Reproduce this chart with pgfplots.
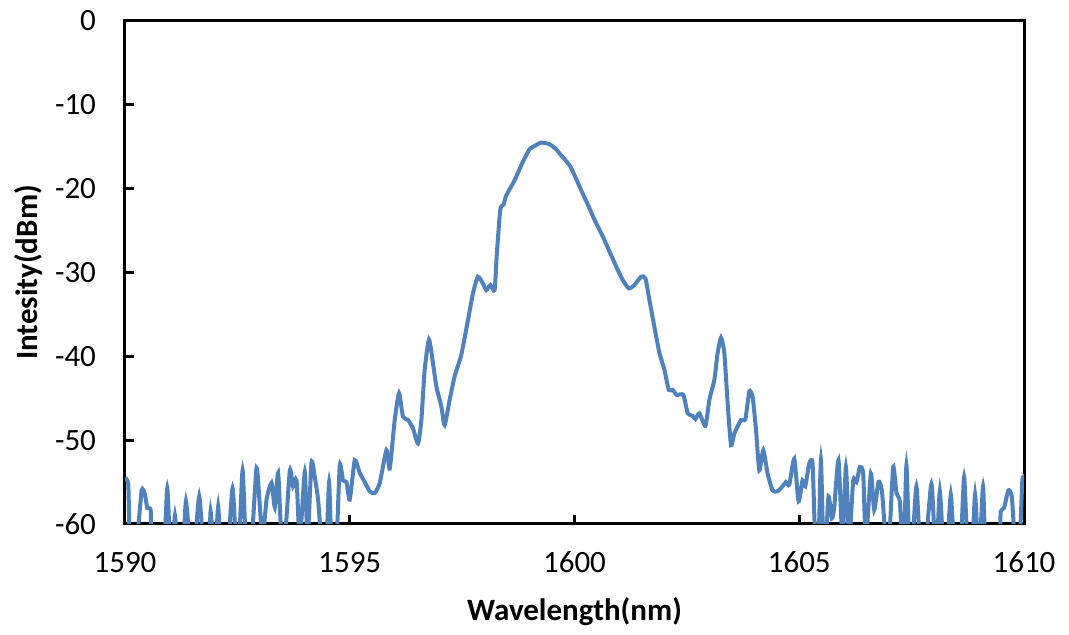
\documentclass[border=0pt]{standalone}
\usepackage{pgfplots}
\pgfplotsset{compat=1.18}
\usepackage{fontspec}
\setmainfont{Carlito}
\definecolor{xlblue}{HTML}{4F81BD}
\begin{document}
\begin{tikzpicture}
\useasboundingbox (-62.5pt,-55.5pt) rectangle (472pt,262pt);
\begin{axis}[
  at={(0,0)}, anchor=south west,
  scale only axis, width=449.5pt, height=251.5pt,
  xmin=1590, xmax=1610, ymin=-60, ymax=0,
  xtick={1590,1595,1600,1605,1610},
  ytick={-60,-50,-40,-30,-20,-10,0},
  tick pos=left, tick align=inside,
  major tick length=4.5pt,
  axis line style={line width=1.5pt},
  every tick/.style={black, line width=1.5pt},
  /pgf/number format/assume math mode=true,
  /pgf/number format/1000 sep={},
  font=\fontsize{15.5}{18}\selectfont,
  ticklabel style={font=\fontsize{15.5}{18}\selectfont},
  yticklabel style={xshift=-11pt},
  xticklabel style={yshift=-10.5pt},
  xlabel={\textbf{Wavelength(nm)}},
  ylabel={\textbf{Intesity(dBm)}},
  xlabel style={at={(axis description cs:0.5,-0.175)}, anchor=center},
  ylabel style={at={(axis description cs:-0.1079,0.5)}, anchor=center, rotate=0},
]
\addplot[color=xlblue, line width=2pt, smooth, tension=0.35] coordinates {
(1590.000,-54.5) (1590.073,-55.3) (1590.111,-62) (1590.260,-62) (1590.371,-56) (1590.444,-56.5)
(1590.496,-58.1) (1590.571,-58.3) (1590.593,-62) (1590.867,-62) (1590.940,-55.7) (1591.000,-62)
(1591.073,-62) (1591.111,-59) (1591.162,-62) (1591.296,-62) (1591.356,-57.3) (1591.444,-62)
(1591.556,-62) (1591.651,-56.7) (1591.740,-62) (1591.873,-62) (1591.904,-58.5) (1591.962,-62)
(1592.022,-62) (1592.073,-57.9) (1592.127,-62) (1592.296,-62) (1592.393,-55.7) (1592.467,-62)
(1592.540,-62) (1592.616,-53.6) (1592.689,-62) (1592.816,-62) (1592.927,-53.3) (1593.000,-57.9)
(1593.060,-62) (1593.149,-57.1) (1593.260,-55.1) (1593.333,-58) (1593.407,-53.9) (1593.482,-62)
(1593.556,-62) (1593.667,-53.6) (1593.740,-55.5) (1593.816,-54.8) (1593.889,-62) (1594.000,-53.8)
(1594.060,-62) (1594.149,-52.7) (1594.222,-54.4) (1594.296,-57.1) (1594.371,-62) (1594.482,-62)
(1594.540,-55) (1594.593,-62) (1594.704,-62) (1594.778,-53) (1594.851,-54.8) (1594.927,-55)
(1595.000,-57.1) (1595.111,-52.4) (1595.222,-53.9) (1595.333,-55) (1595.444,-56.1) (1595.556,-56.3)
(1595.667,-55.1) (1595.816,-51.2) (1595.889,-53.4) (1596.000,-47.6) (1596.096,-44.4) (1596.184,-47.2)
(1596.296,-47.6) (1596.407,-48.6) (1596.518,-50.4) (1596.593,-47.6) (1596.667,-41.6) (1596.762,-38.0)
(1596.851,-40.8) (1596.927,-43.6) (1597.038,-46.0) (1597.111,-48.2) (1597.222,-45.2) (1597.333,-42.4)
(1597.482,-39.8) (1597.629,-35.7) (1597.740,-32.5) (1597.851,-30.5) (1597.962,-31.3) (1598.038,-32.1)
(1598.127,-31.5) (1598.222,-32.1) (1598.273,-27.7) (1598.349,-22.5) (1598.422,-21.9) (1598.482,-20.8)
(1598.667,-19.0) (1598.851,-16.8) (1599.000,-15.3) (1599.149,-14.8) (1599.260,-14.5) (1599.444,-14.7)
(1599.593,-15.3) (1599.667,-15.8) (1599.889,-17.2) (1600.000,-18.4) (1600.149,-20.2) (1600.296,-21.9)
(1600.444,-23.7) (1600.629,-25.7) (1600.778,-27.5) (1600.962,-29.7) (1601.073,-30.9) (1601.207,-31.9)
(1601.333,-31.5) (1601.482,-30.5) (1601.578,-30.7) (1601.667,-33.3) (1601.778,-36.5) (1601.889,-39.6)
(1602.000,-41.6) (1602.096,-44.0) (1602.184,-44.0) (1602.273,-44.6) (1602.422,-44.6) (1602.518,-46.8)
(1602.629,-47.1) (1602.689,-47.5) (1602.778,-46.8) (1602.911,-48.3) (1603.000,-45.2) (1603.111,-42.8)
(1603.184,-39.6) (1603.260,-37.8) (1603.333,-39.6) (1603.407,-45.6) (1603.482,-50.6) (1603.556,-49.2)
(1603.704,-47.6) (1603.800,-47.5) (1603.889,-44.2) (1603.962,-44.8) (1604.038,-48.8) (1604.111,-53.6)
(1604.200,-51.2) (1604.296,-54.0) (1604.407,-56) (1604.518,-56.1) (1604.629,-55.5) (1604.704,-55.0)
(1604.778,-55.3) (1604.889,-52.2) (1604.984,-57.3) (1605.073,-54.8) (1605.133,-55.5) (1605.222,-52.8)
(1605.296,-52.8) (1605.356,-62) (1605.429,-62) (1605.482,-52.4) (1605.533,-62) (1605.593,-62)
(1605.651,-56.7) (1605.727,-59.3) (1605.778,-58) (1605.873,-52.4) (1605.962,-62) (1606.038,-53.2)
(1606.111,-62) (1606.200,-54.8) (1606.273,-55) (1606.349,-53.2) (1606.422,-54) (1606.482,-62)
(1606.593,-54) (1606.667,-58.3) (1606.762,-55) (1606.838,-56) (1606.927,-62) (1607.000,-62)
(1607.089,-53.2) (1607.162,-56.3) (1607.238,-57.3) (1607.282,-62) (1607.333,-62) (1607.384,-53)
(1607.444,-62) (1607.518,-62) (1607.607,-55.5) (1607.682,-62) (1607.816,-62) (1607.940,-55.2)
(1608.016,-62) (1608.067,-62) (1608.127,-56.1) (1608.200,-62) (1608.296,-62) (1608.371,-56.5)
(1608.444,-62) (1608.593,-62) (1608.667,-54.4) (1608.740,-62) (1608.851,-62) (1608.911,-56.5)
(1608.971,-62) (1609.022,-62) (1609.089,-55.5) (1609.149,-62) (1609.444,-62) (1609.482,-58.5)
(1609.556,-58.1) (1609.651,-56) (1609.727,-56.7) (1609.800,-62) (1609.904,-62) (1609.962,-54.8)
(1610.000,-54.5)
};
\end{axis}
\end{tikzpicture}
\end{document}
